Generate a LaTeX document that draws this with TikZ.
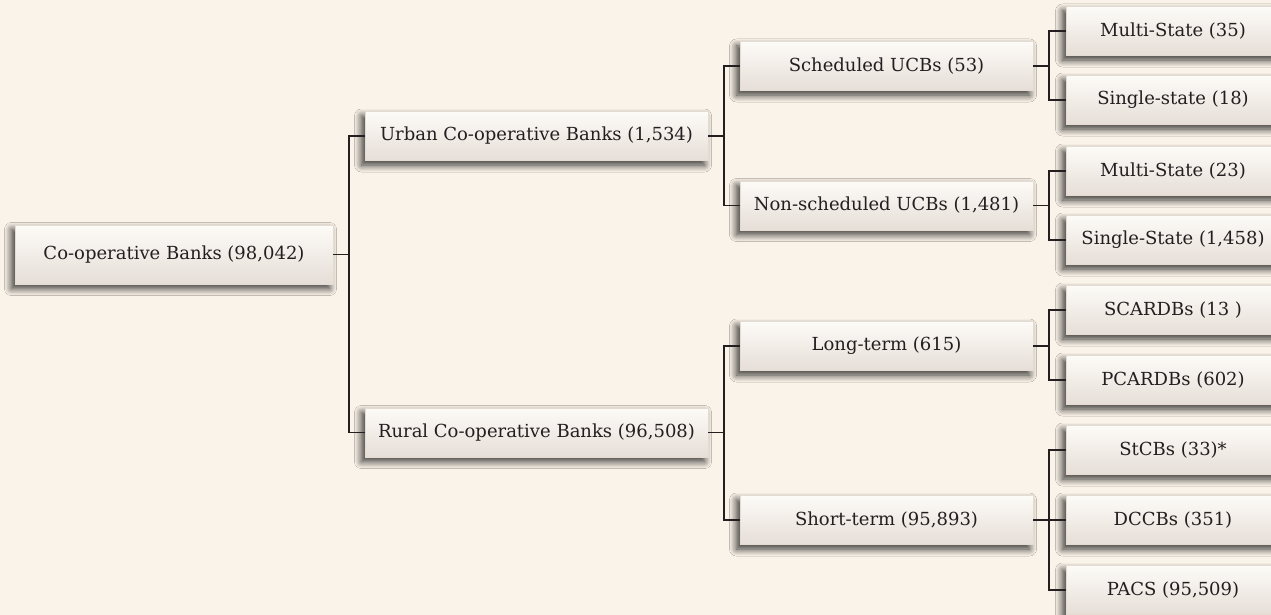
\documentclass[tikz,border=0pt]{standalone}
\usepackage{fontspec}
\setmainfont{DejaVu Serif}
\usetikzlibrary{shadows.blur}

\definecolor{paper}{HTML}{FAF3E9}
\definecolor{boxtop}{HTML}{FDFBF7}
\definecolor{boxbot}{HTML}{E6DED7}
\definecolor{boxedge}{HTML}{E4DBD3}
\definecolor{ink}{HTML}{231F20}

\tikzset{
  bank/.style={rectangle, top color=boxtop, bottom color=boxbot, draw=boxedge,
    line width=0.4pt, inner sep=0pt, minimum height=49pt, text=ink,
    font=\fontsize{18}{21}\selectfont,
    blur shadow={shadow xshift=-3.5pt, shadow yshift=-4.5pt, shadow blur radius=7pt,
      shadow opacity=80, shadow blur steps=12}},
  level2/.style={bank, minimum width=343pt},
  level3/.style={bank, minimum width=293pt},
  leaf/.style={bank, minimum width=214pt},
  link/.style={draw=ink, line width=1.5pt, to path={-- ++(16,0) |- (\tikztotarget)}}
}

\begin{document}
\begin{tikzpicture}[x=1pt, y=-1pt]
  \useasboundingbox (0,0) rectangle (1271,615);
  \fill[paper] (0,0) rectangle (1271,615);

  \node[bank, minimum width=318pt, minimum height=59pt] (coop) at (174,254.5) {Co-operative Banks (98,042)};

  \node[level2] (urban) at (536.5,136) {Urban Co-operative Banks (1,534)};
  \node[level2] (rural) at (536.5,432.5) {Rural Co-operative Banks (96,508)};

  \node[level3] (sched) at (886.5,66) {Scheduled UCBs (53)};
  \node[level3] (nonsched) at (886.5,205.5) {Non-scheduled UCBs (1,481)};
  \node[level3] (long) at (886.5,346) {Long-term (615)};
  \node[level3] (short) at (886.5,520) {Short-term (95,893)};

  \node[leaf] (multiA) at (1173,31) {Multi-State (35)};
  \node[leaf] (singleA) at (1173,100) {Single-state (18)};
  \node[leaf] (multiB) at (1173,171) {Multi-State (23)};
  \node[leaf] (singleB) at (1173,240) {Single-State (1,458)};
  \node[leaf] (scardb) at (1173,310) {SCARDBs (13 )};
  \node[leaf] (pcardb) at (1173,380) {PCARDBs (602)};
  \node[leaf] (stcb) at (1173,450) {StCBs (33)*};
  \node[leaf] (dccb) at (1173,520) {DCCBs (351)};
  \node[leaf] (pacs) at (1173,590) {PACS (95,509)};

  \path (coop.east) edge[link] (urban.west);
  \path (coop.east) edge[link] (rural.west);
  \path (urban.east) edge[link] (sched.west);
  \path (urban.east) edge[link] (nonsched.west);
  \path (rural.east) edge[link] (long.west);
  \path (rural.east) edge[link] (short.west);
  \path (sched.east) edge[link] (multiA.west);
  \path (sched.east) edge[link] (singleA.west);
  \path (nonsched.east) edge[link] (multiB.west);
  \path (nonsched.east) edge[link] (singleB.west);
  \path (long.east) edge[link] (scardb.west);
  \path (long.east) edge[link] (pcardb.west);
  \path (short.east) edge[link] (stcb.west);
  \path (short.east) edge[link] (dccb.west);
  \path (short.east) edge[link] (pacs.west);
\end{tikzpicture}
\end{document}
